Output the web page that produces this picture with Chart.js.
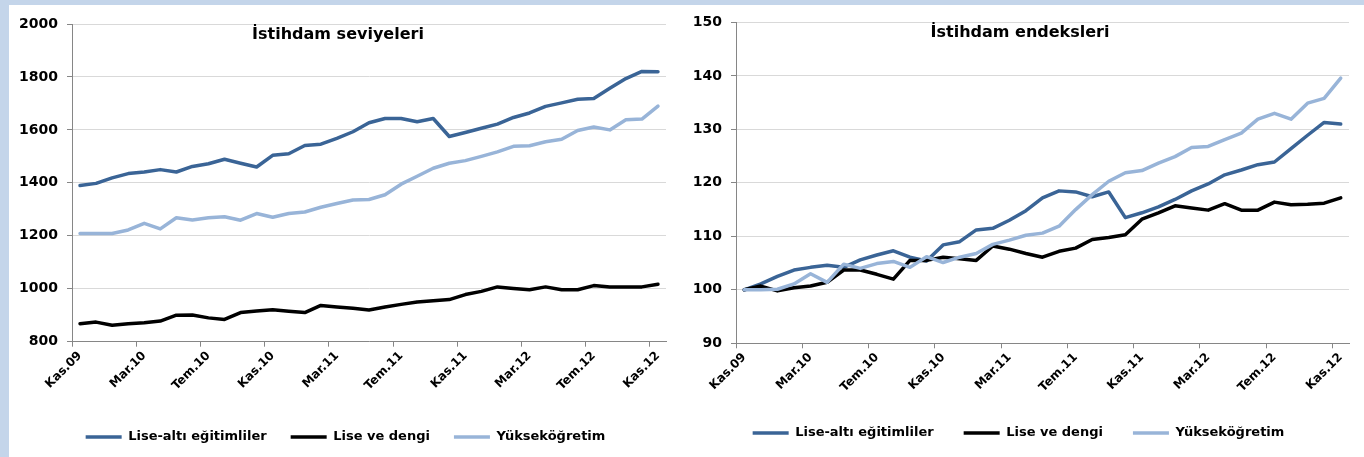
<!DOCTYPE html>
<html lang="tr">
<head>
<meta charset="utf-8">
<title>İstihdam seviyeleri ve endeksleri</title>
<script src="https://cdn.jsdelivr.net/npm/chart.js@4/dist/chart.umd.min.js"></script>
<style>
    html, body { margin: 0; padding: 0; width: 1364px; height: 457px; overflow: hidden; background: #fff; }
    #bandTop { position: absolute; left: 0; top: 0; width: 1364px; height: 5px; background: #c4d5ea; }
    #bandLeft { position: absolute; left: 0; top: 0; width: 9px; height: 457px; background: #c4d5ea; }
    .kutu { position: absolute; top: 5px; height: 470px; }
    #kutu1 { left: 9px; width: 671px; }
    #kutu2 { left: 680px; width: 684px; }
</style>
</head>
<body>
<div id="bandTop"></div>
<div id="bandLeft"></div>
<div class="kutu" id="kutu1"><canvas id="seviyeChart"></canvas></div>
<div class="kutu" id="kutu2"><canvas id="endeksChart"></canvas></div>

<script>
// Aylar (Kas.09 - Kas.12)
const aylar = [
    'Kas.09', 'Ara.09', 'Oca.10', 'Şub.10', 'Mar.10', 'Nis.10', 'May.10', 'Haz.10', 'Tem.10', 'Ağu.10', 'Eyl.10', 'Eki.10',
    'Kas.10', 'Ara.10', 'Oca.11', 'Şub.11', 'Mar.11', 'Nis.11', 'May.11', 'Haz.11', 'Tem.11', 'Ağu.11', 'Eyl.11', 'Eki.11',
    'Kas.11', 'Ara.11', 'Oca.12', 'Şub.12', 'Mar.12', 'Nis.12', 'May.12', 'Haz.12', 'Tem.12', 'Ağu.12', 'Eyl.12', 'Eki.12',
    'Kas.12'
];

const seriAdlari = ['Lise-altı eğitimliler', 'Lise ve dengi', 'Yükseköğretim'];
const renkler = ['#3a6496', '#000000', '#98b4d8'];

// İstihdam seviyeleri (bin kişi)
const seviyeLiseAlti = [1390, 1398, 1419, 1435, 1441, 1450, 1441, 1462, 1472, 1489, 1474, 1460, 1504, 1510, 1541, 1546, 1568, 1593, 1627,
    1643, 1643, 1631, 1643, 1575, 1590, 1606, 1622, 1647, 1664, 1689, 1702, 1716, 1719, 1757, 1794, 1821, 1820];
const seviyeLise = [868, 874, 862, 868, 872, 878, 900, 901, 890, 884, 910, 916, 921, 915, 910, 937, 931, 926, 920,
    931, 941, 950, 955, 959, 978, 990, 1007, 1001, 996, 1007, 996, 996, 1012, 1007, 1007, 1007, 1017];
const seviyeYuksek = [1209, 1209, 1209, 1222, 1247, 1226, 1268, 1260, 1268, 1272, 1259, 1284, 1270, 1284, 1290, 1308, 1322, 1335, 1337,
    1355, 1395, 1425, 1455, 1474, 1484, 1500, 1517, 1538, 1540, 1555, 1565, 1598, 1611, 1600, 1638, 1641, 1690];

// İstihdam endeksleri (Kas.09 = 100)
const endeksLiseAlti = [100, 101.1, 102.5, 103.7, 104.2, 104.6, 104.2, 105.6, 106.5, 107.3, 106.1, 105.4, 108.4, 109, 111.2, 111.5, 113, 114.8, 117.2,
    118.5, 118.3, 117.4, 118.3, 113.5, 114.4, 115.5, 116.9, 118.5, 119.8, 121.5, 122.4, 123.4, 123.9, 126.4, 128.9, 131.3, 131];
const endeksLise = [100, 100.7, 99.8, 100.4, 100.7, 101.4, 103.7, 103.7, 102.9, 102, 105.5, 105.5, 106.1, 105.8, 105.5, 108.2, 107.6, 106.8, 106.1,
    107.2, 107.8, 109.4, 109.8, 110.3, 113.2, 114.4, 115.7, 115.3, 114.9, 116.1, 114.9, 114.9, 116.4, 115.9, 116, 116.2, 117.2];
const endeksYuksek = [100, 100, 100.1, 101.1, 103, 101.4, 104.8, 104, 104.9, 105.3, 104.2, 106.2, 105.1, 106.1, 106.8, 108.5, 109.3, 110.2, 110.6,
    111.9, 115, 117.8, 120.3, 121.9, 122.3, 123.7, 124.9, 126.6, 126.8, 128.1, 129.3, 131.9, 133, 131.9, 134.9, 135.8, 139.6];

const FONT = 'DejaVu Sans';

// Başlık grafik alanının içinde yazılıyor
const icBaslik = {
    id: 'icBaslik',
    afterDraw(chart, args, opts) {
        const ctx = chart.ctx;
        ctx.save();
        ctx.font = 'bold 16px "' + FONT + '"';
        ctx.fillStyle = '#000';
        ctx.textAlign = 'center';
        ctx.textBaseline = 'middle';
        ctx.fillText(opts.text, opts.x, opts.y);
        ctx.restore();
    }
};

// Lejantı biraz sağa kaydır
const lejantKaydir = {
    id: 'lejantKaydir',
    afterLayout(chart, args, opts) {
        if (chart.legend) {
            chart.legend.left += opts.dx;
            chart.legend.right += opts.dx;
        }
    }
};

function grafikCiz(id, seriler, yMin, yMax, adim, baslik, d) {
    return new Chart(document.getElementById(id), {
        type: 'line',
        data: {
            labels: aylar,
            datasets: seriler.map((veri, i) => ({
                label: seriAdlari[i],
                data: veri,
                borderColor: renkler[i],
                backgroundColor: renkler[i],
                borderWidth: 3.5,
                pointRadius: 0,
                tension: 0,
                borderJoinStyle: 'round',
                borderCapStyle: 'round',
                order: 2 - i
            }))
        },
        options: {
            responsive: true,
            maintainAspectRatio: false,
            animation: false,
            devicePixelRatio: 1,
            layout: { padding: { top: d.padTop, right: d.padRight, bottom: d.padBottom, left: 0 } },
            plugins: {
                tooltip: { enabled: false },
                icBaslik: { text: baslik, x: d.titleX, y: d.titleY },
                lejantKaydir: { dx: d.legendDx },
                legend: {
                    position: 'bottom',
                    labels: {
                        usePointStyle: true,
                        pointStyle: 'line',
                        pointStyleWidth: 36,
                        padding: d.legendGap,
                        color: '#000',
                        font: { family: FONT, weight: 'bold', size: 13 },
                        sort: (a, b) => a.datasetIndex - b.datasetIndex
                    }
                }
            },
            scales: {
                x: {
                    offset: true,
                    afterFit: s => { s.height = d.xHeight; },
                    grid: {
                        offset: true,
                        drawOnChartArea: false,
                        tickLength: 5,
                        tickColor: c => (c.index % 4 === 0 ? '#868686' : 'rgba(0,0,0,0)')
                    },
                    border: { color: '#868686' },
                    ticks: {
                        autoSkip: false,
                        minRotation: 45,
                        maxRotation: 45,
                        padding: 2,
                        color: '#000',
                        font: { family: FONT, weight: 'bold', size: 12 },
                        callback: (v, i) => (i % 4 === 0 ? aylar[i] : '')
                    }
                },
                y: {
                    min: yMin,
                    max: yMax,
                    afterFit: s => { s.width = d.yWidth; },
                    grid: { color: '#d9d9d9', tickColor: '#868686', tickLength: 5 },
                    border: { color: '#868686' },
                    ticks: {
                        stepSize: adim,
                        padding: 9,
                        color: '#000',
                        font: { family: FONT, weight: 'bold', size: 14 },
                        callback: v => String(v)
                    }
                }
            }
        },
        plugins: [icBaslik, lejantKaydir]
    });
}

grafikCiz('seviyeChart', [seviyeLiseAlti, seviyeLise, seviyeYuksek], 800, 2000, 200, 'İstihdam seviyeleri',
    { yWidth: 63, xHeight: 64.8, padTop: 19, padRight: 14, padBottom: 21.5, legendGap: 24, legendDx: 8, titleX: 329, titleY: 30 });

grafikCiz('endeksChart', [endeksLiseAlti, endeksLise, endeksYuksek], 90, 150, 10, 'İstihdam endeksleri',
    { yWidth: 56, xHeight: 53.2, padTop: 16.7, padRight: 15, padBottom: 25.5, legendGap: 30, legendDx: 4, titleX: 340, titleY: 28 });
</script>
</body>
</html>
